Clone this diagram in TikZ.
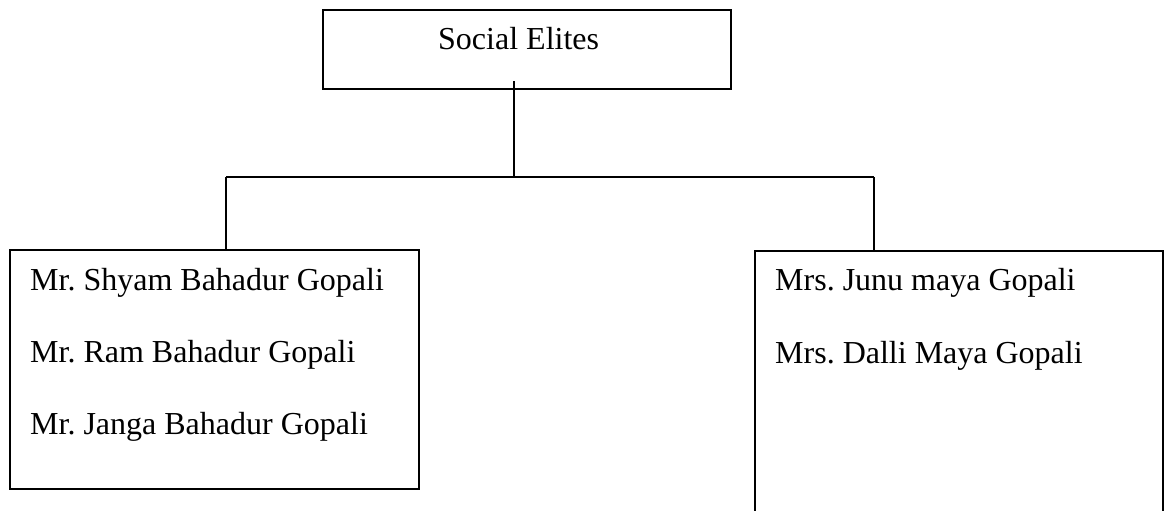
\documentclass[tikz,border=0pt]{standalone}
\usepackage{fontspec}
\setmainfont{Liberation Serif}
\frenchspacing
\begin{document}
\begin{tikzpicture}[x=1pt,y=-1pt,
  boxline/.style={draw=black,line width=1.7pt},
  txt/.style={inner sep=0pt,anchor=base west,font=\fontsize{32}{38}\selectfont}]
\useasboundingbox (0,0) rectangle (1167,511);
\clip (0,0) rectangle (1167,511);
% boxes
\node[boxline,minimum width=408pt,minimum height=79pt,inner sep=0pt,anchor=north west] (top) at (322,9) {};
\node[boxline,minimum width=409pt,minimum height=239pt,inner sep=0pt,anchor=north west] (left) at (9,249) {};
\node[boxline,minimum width=408pt,minimum height=300pt,inner sep=0pt,anchor=north west] (right) at (754,250) {};
% texts
\node[txt] (t0) at (438,49) {Social Elites};
\node[txt] (l1) at (30,290) {Mr. Shyam Bahadur Gopali};
\node[txt] (l2) at (30,362) {Mr. Ram Bahadur Gopali};
\node[txt] (l3) at (30,434) {Mr. Janga Bahadur Gopali};
\node[txt] (r1) at (775,290) {Mrs. Junu maya Gopali};
\node[txt] (r2) at (775,363) {Mrs. Dalli Maya Gopali};
% connectors
\coordinate (stem) at (514,81);
\coordinate (junc) at (514,177);
\coordinate (lc) at (226,177);
\coordinate (rc) at (874,177);
\draw[boxline] (stem) -- (junc);
\draw[boxline] (lc) -- (rc);
\draw[boxline] (lc) -- (lc |- left.north);
\draw[boxline] (rc) -- (rc |- right.north);
\end{tikzpicture}
\end{document}
